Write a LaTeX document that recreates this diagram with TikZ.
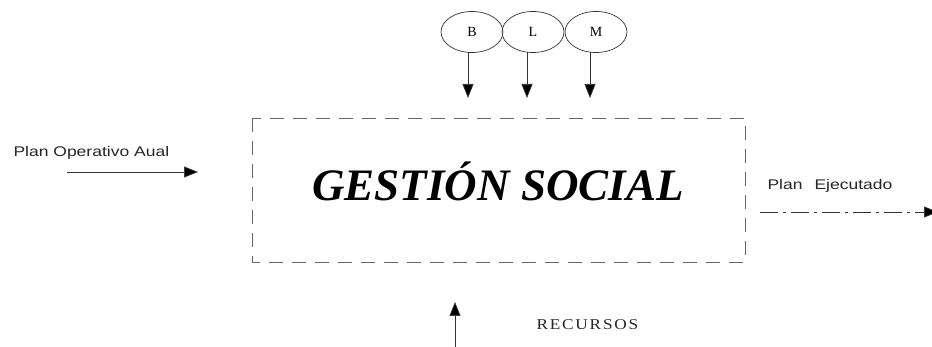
\documentclass[tikz,border=0pt]{standalone}
\usepackage{fontspec}
\usepackage{tikz}
\usepackage{xcolor}
\usetikzlibrary{shapes.geometric, arrows.meta}
\setmainfont{Liberation Serif}
\newfontfamily\planfont[FakeStretch=1.25]{Liberation Sans}
\newfontfamily\recfont[FakeStretch=1.15, LetterSpace=12]{Liberation Serif}

\begin{document}
\begin{tikzpicture}[x=1pt, y=-1pt,
    flecha/.style={-{Triangle[length=14pt,width=11pt,fill=black]}, line width=0.7pt, black!80},
    ovalo/.style={ellipse, draw=black!80, line width=0.7pt, minimum width=62pt, minimum height=41pt, inner sep=0pt, font=\fontsize{14}{14}\selectfont}]
  \useasboundingbox (0,0) rectangle (932,347);

  % Central box
  \draw[black!60, line width=0.6pt, dash pattern=on 14pt off 9pt] (252,118) rectangle (745,262);
  \node (gs) at (498,181) {\fontsize{45}{45}\selectfont\bfseries\itshape GESTIÓN SOCIAL};

  % Ellipses on top
  \node[ovalo] (b) at (472,32) {B};
  \node[ovalo] (l) at (533,32) {L};
  \node[ovalo] (m) at (596,32) {M};
  \coordinate (bend) at (468,98);
  \coordinate (lend) at (527,98);
  \coordinate (mend) at (590,98);
  \draw[flecha] (468,52) -- (bend);
  \draw[flecha] (527,52) -- (lend);
  \draw[flecha] (590,52) -- (mend);

  % Input
  \node[anchor=west, font=\fontsize{14}{14}\planfont, black!85] (poa) at (10,153) {Plan Operativo Aual};
  \coordinate (poas) at (67,172);
  \coordinate (poae) at (198,172);
  \draw[flecha] (poas) -- (poae);

  % Output
  \node[anchor=west, font=\fontsize{14}{14}\planfont, black!85] (pe) at (764,186) {Plan\hspace{12pt}Ejecutado};
  \coordinate (pes) at (760,212);
  \coordinate (pee) at (938,212);
  \draw[flecha, dash pattern=on 18pt off 5pt on 3pt off 5pt] (pes) -- (pee);

  % Resources
  \coordinate (recs) at (455,347);
  \coordinate (rece) at (455,302);
  \draw[flecha] (recs) -- (rece);
  \node[anchor=west, font=\fontsize{15}{15}\recfont, black!85] (rec) at (533,325) {RECURSOS};
\end{tikzpicture}
\end{document}
